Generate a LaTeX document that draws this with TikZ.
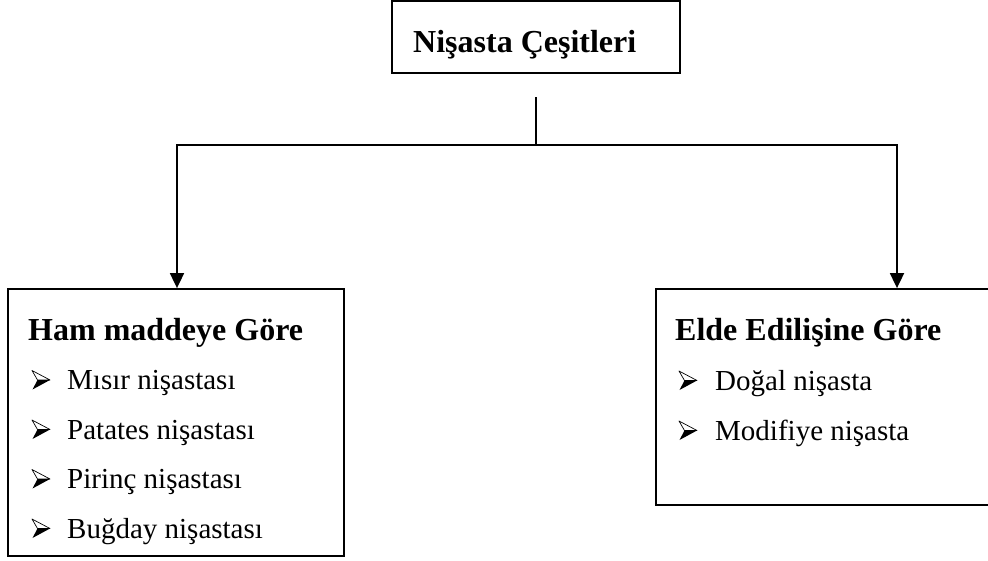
\documentclass[tikz,border=0pt]{standalone}
\usepackage{fontspec}
\setmainfont{Liberation Serif}
\usetikzlibrary{arrows.meta,positioning}

\tikzset{
  kutu/.style={draw,line width=1.8pt,inner sep=0pt},
  baslik/.style={font=\fontsize{32}{38}\selectfont\bfseries,anchor=base west,inner sep=0pt},
  madde/.style={font=\fontsize{29}{35}\selectfont,anchor=base west,inner sep=0pt},
  ok/.style={line width=1.8pt,-{Triangle[width=14pt,length=15pt]}},
  isaret/.pic={
    \draw[line width=0.7pt,line join=round] (0,-19) -- (18,-9.5) -- (5.5,-9.5) -- cycle;
    \fill (5.5,-9.5) -- (18,-9.5) -- (0.5,0) -- cycle;
  }
}

\begin{document}
\begin{tikzpicture}[x=1pt,y=-1pt]
\useasboundingbox (0,0) rectangle (988,560);

% ust kutu
\node[kutu,minimum width=288pt,minimum height=72pt] (nisasta) at (536,37) {};
\node[baslik] (nisastayazi) at (413,52) {Nişasta Çeşitleri};

% alt kutular
\node[kutu,minimum width=336pt,minimum height=267pt] (ham) at (176,422.5) {};
\node[kutu,minimum width=340pt,minimum height=216pt] (elde) at (826,397) {};

\node[baslik] (hambaslik) at (28,340) {Ham maddeye Göre};
\foreach \metin [count=\i] in {Mısır nişastası,Patates nişastası,Pirinç nişastası,Buğday nişastası}{
  \pic at (32,340+49.5*\i) {isaret};
  \node[madde] (hammadde\i) at (67,340+49.5*\i) {\metin};
}

\node[baslik] (eldebaslik) at (675,340) {Elde Edilişine Göre};
\foreach \metin [count=\i] in {Doğal nişasta,Modifiye nişasta}{
  \pic at (679,340+50*\i) {isaret};
  \node[madde] (eldemadde\i) at (715,340+50*\i) {\metin};
}

% baglantilar
\coordinate (ayrim) at (536,97);
\coordinate (kavsak) at (536,145);
\coordinate (sol) at (177,145);
\coordinate (sag) at (897,145);
\draw[line width=1.8pt] (ayrim) -- (kavsak);
\draw[ok] (kavsak) -- (sol) -- (sol |- ham.north);
\draw[ok] (kavsak) -- (sag) -- (sag |- elde.north);
\end{tikzpicture}
\end{document}
